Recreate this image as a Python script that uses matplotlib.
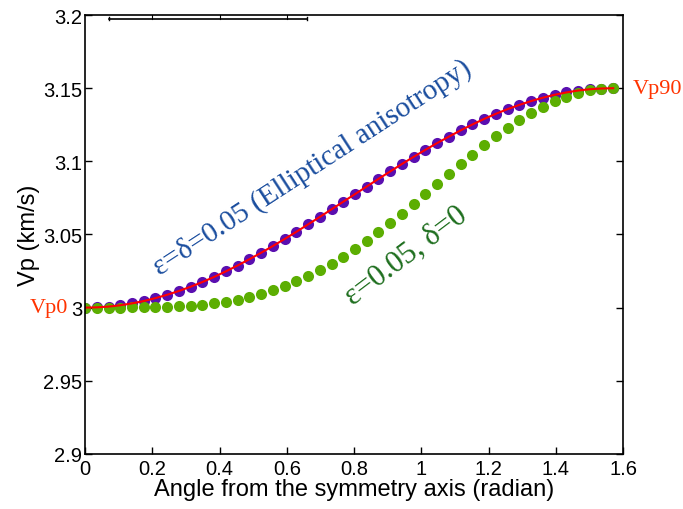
import matplotlib.pyplot as plt
import numpy as np

plt.rcParams['font.family'] = 'Liberation Sans'

# Angles (degrees, every 2 degrees), converted to radians for plotting
angle_deg = list(range(0, 92, 2))

# Vp for elliptical anisotropy (eps = delta = 0.05)
vp_elliptical = [3.0000, 3.0002, 3.0007, 3.0016, 3.0029, 3.0045, 3.0065, 3.0088,
                 3.0114, 3.0143, 3.0175, 3.0210, 3.0248, 3.0288, 3.0331, 3.0375,
                 3.0421, 3.0469, 3.0518, 3.0569, 3.0620, 3.0672, 3.0724, 3.0776,
                 3.0828, 3.0880, 3.0931, 3.0982, 3.1031, 3.1079, 3.1125, 3.1169,
                 3.1212, 3.1252, 3.1290, 3.1325, 3.1357, 3.1386, 3.1412, 3.1435,
                 3.1455, 3.1471, 3.1484, 3.1493, 3.1498, 3.1500]

# Vp for eps = 0.05, delta = 0
vp_delta0 = [3.0000, 3.0000, 3.0000, 3.0000, 3.0001, 3.0001, 3.0003, 3.0005,
             3.0009, 3.0014, 3.0021, 3.0030, 3.0041, 3.0055, 3.0073, 3.0094,
             3.0118, 3.0147, 3.0179, 3.0216, 3.0256, 3.0301, 3.0349, 3.0402,
             3.0457, 3.0517, 3.0578, 3.0643, 3.0709, 3.0776, 3.0844, 3.0912,
             3.0979, 3.1045, 3.1109, 3.1170, 3.1227, 3.1281, 3.1330, 3.1373,
             3.1411, 3.1442, 3.1467, 3.1485, 3.1496, 3.1500]

theta = np.deg2rad(angle_deg)

fig = plt.figure(figsize=(6.83, 5.10), dpi=100)
ax = fig.add_axes([0.1245, 0.108, 0.7877, 0.8605])

ax.plot(theta, vp_elliptical, 'o', color='#5a0fb0', markersize=8, markeredgewidth=0)
ax.plot(theta, vp_delta0, 'o', color='#5cae02', markersize=8, markeredgewidth=0)
ax.plot(theta, vp_elliptical, '-', color='#ff0000', linewidth=1.5)

ax.set_xlim(0, 1.6)
ax.set_ylim(2.9, 3.2)
ax.set_xticks(np.arange(0, 1.61, 0.2))
ax.set_xticklabels(['0', '0.2', '0.4', '0.6', '0.8', '1', '1.2', '1.4', '1.6'])
ax.set_yticks(np.arange(2.9, 3.201, 0.05))
ax.set_yticklabels(['2.9', '2.95', '3', '3.05', '3.1', '3.15', '3.2'])
ax.tick_params(direction='in', length=5, width=1, labelsize=14.5, right=True,
               top=False, pad=2)
ax.tick_params(axis='x', pad=4)
for s in ax.spines.values():
    s.set_linewidth(1.2)

ax.set_xlabel('Angle from the symmetry axis (radian)', fontsize=17, labelpad=0)
ax.set_ylabel('Vp (km/s)', fontsize=17, labelpad=2)

# stray bar near top of the box
ax.plot([0.07, 0.66], [3.1975, 3.1975], color='black', linewidth=1.2, clip_on=False)
for xt in [0.2, 0.4, 0.6]:
    ax.plot([xt, xt], [3.1975, 3.2], color='black', linewidth=0.8)
for xe in [0.07, 0.66]:
    ax.plot([xe, xe], [3.1965, 3.1985], color='black', linewidth=1.0)

ax.text(0.675, 3.096, 'ε=δ=0.05 (Elliptical anisotropy)', rotation=33,
        fontsize=21, color='#1a4d9e', family='Liberation Serif',
        ha='center', va='center', rotation_mode='anchor')
ax.text(0.955, 3.036, 'ε=0.05, δ=0', rotation=37,
        fontsize=22, color='#1e6e1e', family='Liberation Serif',
        ha='center', va='center', rotation_mode='anchor')
ax.text(-0.05, 3.0, 'Vp0', fontsize=16, color='#ff3300', family='Liberation Serif',
        ha='right', va='center')
ax.text(1.63, 3.15, 'Vp90', fontsize=16, color='#ff3300', family='Liberation Serif',
        ha='left', va='center', clip_on=False)

fig.savefig('out.png', dpi=100)
